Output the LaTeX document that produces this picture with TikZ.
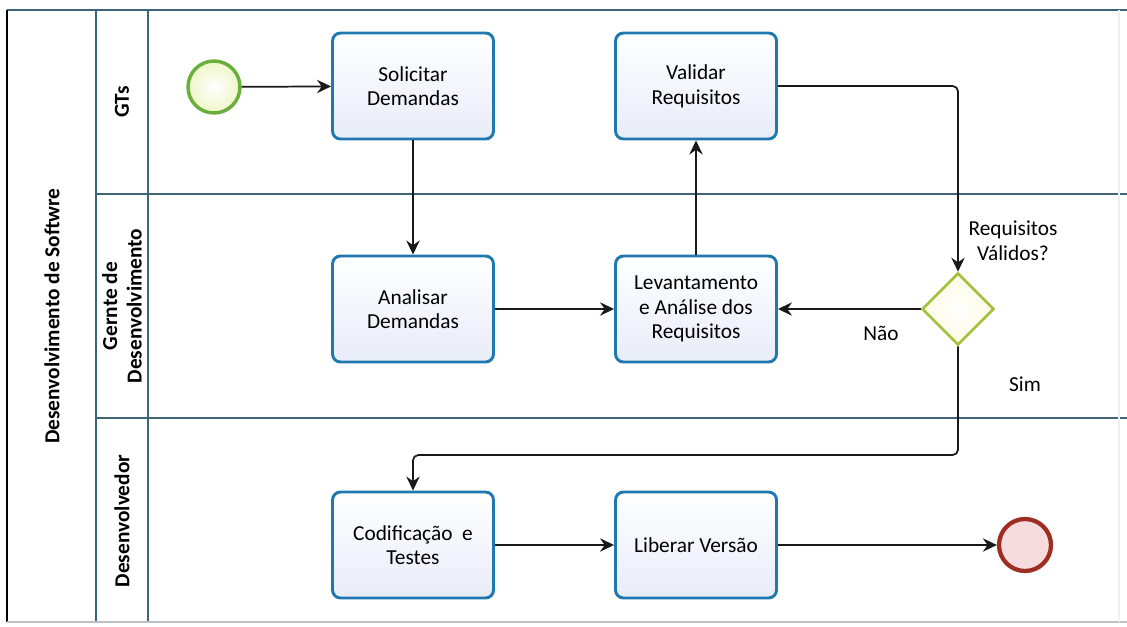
\documentclass[tikz,border=0pt]{standalone}
\usepackage{fontspec}
\setmainfont{Carlito}
\usetikzlibrary{shapes.geometric,arrows.meta,shadings}
\definecolor{lanecol}{HTML}{3E6478}
\definecolor{taskcol}{HTML}{1F78B0}
\definecolor{taskfill}{HTML}{E8ECF8}
\definecolor{startcol}{HTML}{6AAE3C}
\definecolor{startfill}{HTML}{EEF6C8}
\definecolor{gatecol}{HTML}{A2C23E}
\definecolor{gatefill}{HTML}{FBFBE2}
\definecolor{endcol}{HTML}{9E2E22}
\definecolor{endfill}{HTML}{F6DCDF}
\tikzset{
  task/.style={draw=taskcol, line width=2.2pt, rounded corners=6pt,
    top color=white, bottom color=taskfill,
    minimum width=161*0.75pt, minimum height=106*0.75pt,
    align=center, font=\fontsize{16}{18.5}\selectfont, inner sep=2pt},
  startev/.style={circle, draw=startcol, line width=2.6pt,
    inner color=white, outer color=startfill, minimum size=52*0.75pt, inner sep=0pt},
  endev/.style={circle, draw=endcol, line width=3.2pt,
    fill=endfill, minimum size=52*0.75pt, inner sep=0pt},
  gateway/.style={diamond, draw=gatecol, line width=2pt,
    inner color=white, outer color=gatefill, minimum width=72*0.75pt,
    minimum height=72*0.75pt, inner sep=0pt, aspect=1},
  flow/.style={draw=black!90, line width=1.3pt,
    -{Stealth[length=10.5pt,width=10pt,inset=3.5pt]}},
  lane/.style={draw=lanecol, line width=1.5pt},
  lanelabel/.style={rotate=90, font=\bfseries\fontsize{16}{18.5}\selectfont, align=center},
  flowlabel/.style={font=\fontsize{16}{18.5}\selectfont, align=center}
}
\begin{document}
\begin{tikzpicture}[x=0.75pt,y=-0.75pt]
\useasboundingbox (0,0) rectangle (1127,626);
\fill[white] (0,0) rectangle (1127,626);

% pool and lanes
\draw[lane] (7,10) -- (1127,10);
\draw[lane] (96,10) -- (96,622);
\draw[lane] (148,10) -- (148,622);
\draw[lane] (96,194) -- (1127,194);
\draw[lane] (96,418) -- (1127,418);
\draw[black, line width=1.5pt] (7,10) -- (7,622);
\draw[black!25, line width=1pt] (7,622) -- (1127,622);
\draw[black!6, line width=1pt] (1119,10) -- (1119,622);

\node[lanelabel] (pool) at (52,316) {Desenvolvimento de Softwre};
\node[lanelabel] (lgt) at (122,102) {GTs};
\node[lanelabel] (lger) at (122,306) {Gernte de\\Desenvolvimento};
\node[lanelabel] (ldev) at (122,521) {Desenvolvedor};

% events, tasks and gateway
\node[startev] (start) at (214,87) {};
\node[task] (sol) at (413,86) {Solicitar\\Demandas};
\node[task] (val) at (696,86) {Validar\\Requisitos};
\node[task] (ana) at (413,309) {Analisar\\Demandas};
\node[task] (lev) at (696,309) {Levantamento\\e Análise dos\\Requisitos};
\node[gateway] (dec) at (958,309) {};
\node[task] (cod) at (413,545) {Codificação\ \ e\\Testes};
\node[task] (lib) at (696,545) {Liberar Versão};
\node[endev] (fim) at (1025,545) {};

\coordinate (c1) at (958,86);
\coordinate (c2) at (958,455);
\coordinate (c3) at (413,455);

% sequence flows
\draw[flow] (start) -- (sol);
\draw[flow] (sol) -- (ana);
\draw[flow] (ana) -- (lev);
\draw[flow] (lev) -- (val);
\draw[flow, rounded corners=4pt] (val) -- (c1) -- (dec);
\draw[flow] (dec) -- (lev);
\draw[flow, rounded corners=4pt] (dec) -- (c2) -- (c3) -- (cod);
\draw[flow] (cod) -- (lib);
\draw[flow] (lib) -- (fim);

% labels
\node[flowlabel] (q) at (1013,241) {Requisitos\\Válidos?};
\node[flowlabel] (nao) at (881,333) {Não};
\node[flowlabel] (sim) at (1025,384) {Sim};
\end{tikzpicture}
\end{document}
